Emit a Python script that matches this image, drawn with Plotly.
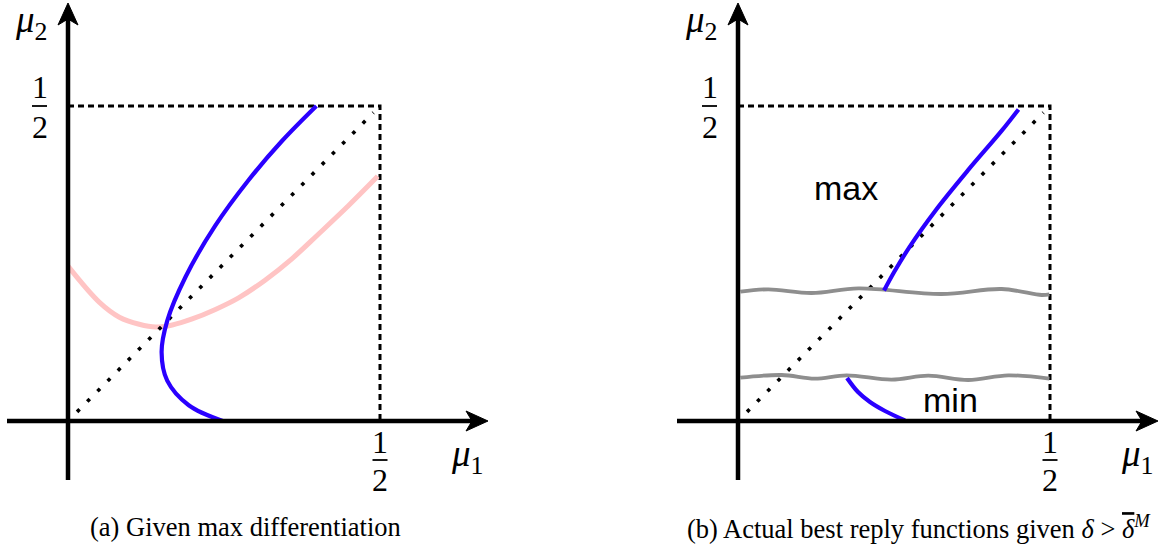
import plotly.graph_objects as go

# ---------------- data (mu units, 0.5 = "1/2") ----------------
HALF = 0.5
diag_x = [0.0145, 0.4895]
diag_y = [0.0145, 0.4895]
box_x = [0.0, HALF, HALF]
box_y = [HALF, HALF, 0.0]

# panel (a): best reply (blue) and pink curve
a_blue_x = [0.248, 0.1935, 0.159, 0.150, 0.159, 0.1885, 0.236, 0.2895, 0.3425, 0.398]
a_blue_y = [0.0, 0.025, 0.064, 0.109, 0.159, 0.229, 0.310, 0.3825, 0.444, 0.5]
a_pink_x = [0.0, 0.0504, 0.0823, 0.1141, 0.1407, 0.1672, 0.1990, 0.2362, 0.2734,
            0.3158, 0.3583, 0.4008, 0.4485, 0.4963]
a_pink_y = [0.2458, 0.1883, 0.1648, 0.1536, 0.1492, 0.1525, 0.1620, 0.1771, 0.1955,
            0.2235, 0.2570, 0.2961, 0.3408, 0.3883]

# panel (b): actual best replies and the two wavy cut lines
b_blue_hi_x = [0.234, 0.25, 0.275, 0.316, 0.369, 0.422, 0.4495]
b_blue_hi_y = [0.207, 0.236, 0.2765, 0.3335, 0.3985, 0.460, 0.4945]
b_blue_lo_x = [0.1747, 0.1923, 0.2115, 0.2356, 0.2676]
b_blue_lo_y = [0.0683, 0.0460, 0.0302, 0.0159, 0.0010]
b_wave_hi_x = [0.004, 0.0486, 0.118, 0.193, 0.326, 0.4226, 0.4867, 0.499]
b_wave_hi_y = [0.2052, 0.209, 0.2032, 0.2106, 0.2016, 0.2095, 0.200, 0.2011]
b_wave_lo_x = [0.004, 0.070, 0.123, 0.174, 0.246, 0.305, 0.369, 0.433, 0.499]
b_wave_lo_y = [0.0688, 0.073, 0.0672, 0.0725, 0.0656, 0.0719, 0.0651, 0.0725, 0.0672]

captions = ["(a) Given max differentiation",
            "(b) Actual best reply functions given <i>δ</i> &gt; "
            "<span style=\"text-decoration:overline\"><i>δ</i></span><sup><i>M</i></sup>"]

# ---------------- geometry ----------------
W, H = 1172, 552
PX_X = 624.0   # pixels per mu unit horizontally
PX_Y = 630.0   # pixels per mu unit vertically
XR = [-68 / PX_X, 432 / PX_X]
YR = [-(H - 421) / PX_Y, 421 / PX_Y]
AX_LO_X, AX_HI_X = -61 / PX_X, 420 / PX_X
AX_LO_Y, AX_HI_Y = -59 / PX_Y, 418 / PX_Y

BLUE = "#2a00ff"
PINK = "#ffc4c4"
GREY = "#8e8e8e"
SERIF = "Liberation Serif"
SANS = "Liberation Sans"

fig = go.Figure()
shapes = []
annots = []


def px2x(p):
    return p / PX_X


def px2y(p):
    return p / PX_Y


def label(xref, yref, x, y, text, size, family=SERIF):
    annots.append(dict(x=x, y=y, xref=xref, yref=yref, text=text, showarrow=False,
                       xanchor="center", yanchor="middle",
                       font=dict(family=family, size=size, color="black")))


def panel(xa, ya):
    xref, yref = xa, ya
    # dashed box
    fig.add_trace(go.Scatter(x=box_x, y=box_y, mode="lines", xaxis=xa, yaxis=ya,
                             line=dict(color="black", width=3, dash="6px,4px"),
                             hoverinfo="skip"))
    # axes lines
    shapes.append(dict(type="line", xref=xref, yref=yref, x0=0, x1=0,
                       y0=AX_LO_Y, y1=AX_HI_Y - px2y(14), line=dict(color="black", width=4.5)))
    shapes.append(dict(type="line", xref=xref, yref=yref, y0=0, y1=0,
                       x0=AX_LO_X, x1=AX_HI_X - px2x(14), line=dict(color="black", width=4.5)))
    # arrow heads
    t = AX_HI_Y
    shapes.append(dict(type="path", xref=xref, yref=yref, fillcolor="black",
                       line=dict(color="black", width=1),
                       path=f"M 0,{t} L {px2x(10)},{t - px2y(22)} L 0,{t - px2y(16)} "
                            f"L {-px2x(10)},{t - px2y(22)} Z"))
    t = AX_HI_X
    shapes.append(dict(type="path", xref=xref, yref=yref, fillcolor="black",
                       line=dict(color="black", width=1),
                       path=f"M {t},0 L {t - px2x(22)},{px2y(10)} L {t - px2x(16)},0 "
                            f"L {t - px2x(22)},{-px2y(10)} Z"))
    fs = 32
    # y-axis 1/2
    label(xref, yref, px2x(-28), HALF + px2y(19), "1", fs)
    label(xref, yref, px2x(-28), HALF - px2y(21), "2", fs)
    shapes.append(dict(type="line", xref=xref, yref=yref, x0=px2x(-36), x1=px2x(-21),
                       y0=HALF, y1=HALF, line=dict(color="black", width=1.8)))
    # x-axis 1/2
    label(xref, yref, HALF, -px2y(21), "1", fs)
    label(xref, yref, HALF, -px2y(59), "2", fs)
    shapes.append(dict(type="line", xref=xref, yref=yref, x0=HALF - px2x(7.5), x1=HALF + px2x(7.5),
                       y0=-px2y(39), y1=-px2y(39), line=dict(color="black", width=1.8)))
    # axis titles
    label(xref, yref, px2x(-37), px2y(399), "<i>μ</i><sub>2</sub>", 37)
    label(xref, yref, px2x(399), -px2y(35), "<i>μ</i><sub>1</sub>", 37)


# panel (a)
panel("x", "y")
fig.add_trace(go.Scatter(x=a_pink_x, y=a_pink_y, mode="lines", line_shape="spline",
                         line=dict(color=PINK, width=5), xaxis="x", yaxis="y"))
fig.add_trace(go.Scatter(x=diag_x, y=diag_y, mode="lines", xaxis="x", yaxis="y",
                         line=dict(color="black", width=3.6, dash="3.6px,10.9px")))
fig.add_trace(go.Scatter(x=a_blue_x, y=a_blue_y, mode="lines", line_shape="spline",
                         line=dict(color=BLUE, width=4.2), xaxis="x", yaxis="y"))

# panel (b)
panel("x2", "y2")
fig.add_trace(go.Scatter(x=diag_x, y=diag_y, mode="lines", xaxis="x2", yaxis="y2",
                         line=dict(color="black", width=3.6, dash="3.6px,10.9px")))
for wx, wy in ((b_wave_hi_x, b_wave_hi_y), (b_wave_lo_x, b_wave_lo_y)):
    fig.add_trace(go.Scatter(x=wx, y=wy, mode="lines", line_shape="spline",
                             line=dict(color=GREY, width=3.8), xaxis="x2", yaxis="y2"))
for bx, by in ((b_blue_hi_x, b_blue_hi_y), (b_blue_lo_x, b_blue_lo_y)):
    fig.add_trace(go.Scatter(x=bx, y=by, mode="lines", line_shape="spline",
                             line=dict(color=BLUE, width=4.2), xaxis="x2", yaxis="y2"))

label("x2", "y2", px2x(108), px2y(233), "max", 34, SANS)
label("x2", "y2", px2x(212), px2y(21), "min", 34, SANS)

# captions
label("paper", "paper", 245 / W, 1 - 527 / H, captions[0], 26.5)
label("paper", "paper", 919 / W, 1 - 527 / H, captions[1], 26.5)

ax_common = dict(visible=False, showgrid=False, zeroline=False, fixedrange=True)
fig.update_layout(
    width=W, height=H, margin=dict(l=0, r=0, t=0, b=0),
    paper_bgcolor="white", plot_bgcolor="white", showlegend=False,
    xaxis=dict(domain=[0, 500 / W], range=XR, **ax_common),
    yaxis=dict(domain=[0, 1], range=YR, anchor="x", **ax_common),
    xaxis2=dict(domain=[670 / W, 1170 / W], range=XR, anchor="y2", **ax_common),
    yaxis2=dict(domain=[0, 1], range=YR, anchor="x2", **ax_common),
    shapes=shapes, annotations=annots,
)

fig.write_html("out.html", config={"displayModeBar": False},
               post_script="document.body.style.margin='0';document.body.style.overflow='hidden';")
